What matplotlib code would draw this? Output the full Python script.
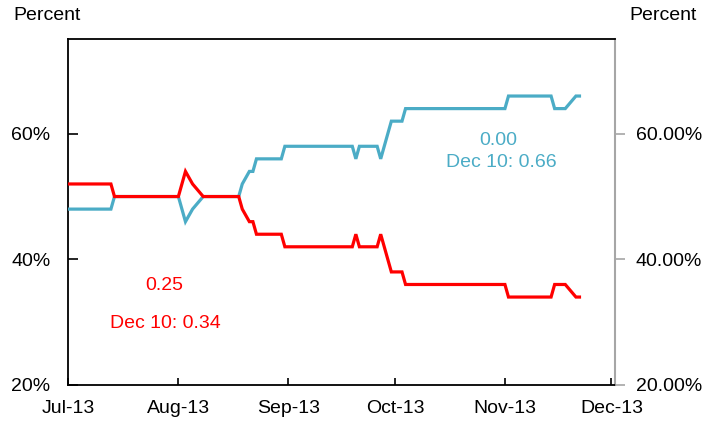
import matplotlib
matplotlib.use("Agg")
import matplotlib.pyplot as plt
import matplotlib.dates as mdates
import pandas as pd

plt.rcParams['font.family'] = ['Liberation Sans', 'DejaVu Sans']

dates = ["2013-07-01", "2013-07-13", "2013-07-14", "2013-08-01", "2013-08-03",
         "2013-08-05", "2013-08-08", "2013-08-18", "2013-08-19", "2013-08-20",
         "2013-08-21", "2013-08-22", "2013-08-23", "2013-08-30", "2013-08-31",
         "2013-09-19", "2013-09-20", "2013-09-21", "2013-09-26", "2013-09-27",
         "2013-09-30", "2013-10-03", "2013-10-04", "2013-11-01", "2013-11-02",
         "2013-11-14", "2013-11-15", "2013-11-18", "2013-11-21", "2013-11-22"]
blue_vals = [48, 48, 50, 50, 46, 48, 50, 50, 52, 53,
             54, 54, 56, 56, 58, 58, 56, 58, 58, 56,
             62, 62, 64, 64, 66, 66, 64, 64, 66, 66]
red_vals = [52, 52, 50, 50, 54, 52, 50, 50, 48, 47,
            46, 46, 44, 44, 42, 42, 44, 42, 42, 44,
            38, 38, 36, 36, 34, 34, 36, 36, 34, 34]
tick_dates = ["2013-07-01", "2013-08-01", "2013-09-01", "2013-10-01", "2013-11-01", "2013-12-01"]
tick_labels = ["Jul-13", "Aug-13", "Sep-13", "Oct-13", "Nov-13", "Dec-13"]
y_ticks = [20, 40, 60]
red_notes = ["0.25", "Dec 10: 0.34"]
blue_notes = ["0.00", "Dec 10: 0.66"]

RED = "#FF0000"
BLUE = "#4BACC6"
FS = 14

x = pd.to_datetime(dates)
fig = plt.figure(figsize=(7.17, 4.22), dpi=100)
ax = fig.add_axes([0.0953, 0.0877, 0.7624, 0.8187])
ax.plot(x, blue_vals, color=BLUE, lw=2.3, zorder=3, solid_joinstyle='miter')
ax.plot(x, red_vals, color=RED, lw=2.3, zorder=4, solid_joinstyle='miter')

ax.set_xlim(pd.Timestamp("2013-07-01"), pd.Timestamp("2013-12-02"))
ax.set_ylim(20, 75)
ax.set_xticks(pd.to_datetime(tick_dates))
ax.set_xticklabels(tick_labels)
ax.set_yticks(y_ticks)
ax.set_yticklabels([f"{v}%" for v in y_ticks])

for s in ['left', 'bottom', 'top']:
    ax.spines[s].set_color('black')
    ax.spines[s].set_linewidth(1.3)
ax.spines['right'].set_color('#a6a6a6')
ax.spines['right'].set_linewidth(1.5)

ax.tick_params(axis='y', direction='in', length=7, width=1.2, color='black',
               labelsize=FS, pad=13)
ax.tick_params(axis='x', direction='in', length=5, width=1.2, color='black',
               labelsize=FS, pad=11)

ax2 = ax.twinx()
ax2.set_ylim(20, 75)
ax2.set_yticks(y_ticks)
ax2.set_yticklabels([f"{v:.2f}%" for v in y_ticks])
ax2.tick_params(axis='y', direction='out', length=7, width=1.2, color='#a6a6a6',
                labelsize=FS, pad=8)
for s in ax2.spines.values():
    s.set_visible(False)

ax.text(0.175, 0.288, red_notes[0], color=RED, fontsize=FS, ha='center', va='center',
        transform=ax.transAxes)
ax.text(0.177, 0.179, red_notes[1], color=RED, fontsize=FS, ha='center', va='center',
        transform=ax.transAxes)
ax.text(0.786, 0.709, blue_notes[0], color=BLUE, fontsize=FS, ha='center', va='center',
        transform=ax.transAxes)
ax.text(0.792, 0.643, blue_notes[1], color=BLUE, fontsize=FS, ha='center', va='center',
        transform=ax.transAxes)

fig.text(13 / 717, 1 - 16 / 422, "Percent", fontsize=FS, ha='left', va='center')
fig.text(697 / 717, 1 - 16 / 422, "Percent", fontsize=FS, ha='right', va='center')

fig.savefig("out.png", dpi=100)
